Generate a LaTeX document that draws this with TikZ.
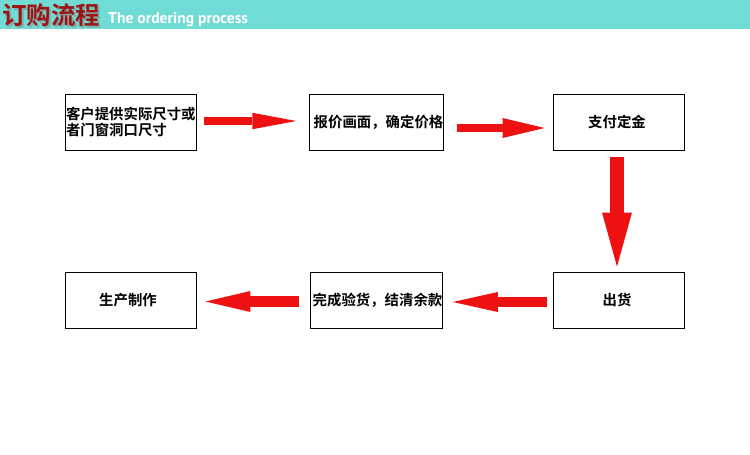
\documentclass[tikz,border=0pt]{standalone}
\usepackage{fontspec}
\usetikzlibrary{arrows.meta,calc}
\newfontfamily\cjk{Noto Sans CJK SC}[BoldFont={Noto Sans CJK SC Bold}]
\newfontfamily\hdrfont{PT Sans}
\definecolor{bandcyan}{HTML}{71DBD5}
\definecolor{flowred}{HTML}{EE1111}
\definecolor{titlered}{HTML}{9E1414}
\tikzset{
  box/.style={draw=black, line width=0.9pt, minimum width=131pt, minimum height=56pt,
    inner sep=0pt, font=\cjk\bfseries\fontsize{14.4}{15.5}\selectfont},
  flow/.style={draw=flowred, line width=#1},
}
\begin{document}
\begin{tikzpicture}[x=1pt,y=-1pt]
\useasboundingbox (0,0) rectangle (750,455);
\fill[white] (0,0) rectangle (750,455);
\fill[bandcyan] (0,0) rectangle (750,29);
% title with drop shadow
\node[anchor=center, text=black!45, opacity=0.55, font=\cjk\bfseries\fontsize{24.5}{24.5}\selectfont, inner sep=0pt] (tshadow) at (53.5,17.5) {订购流程};
\node[anchor=center, text=titlered, font=\cjk\bfseries\fontsize{24.5}{24.5}\selectfont, inner sep=0pt] (title) at (51,15) {订购流程};
\node[anchor=base west, text=white, font=\hdrfont\bfseries\fontsize{15.6}{15.6}\selectfont, inner sep=0pt] (subtitle) at (108,23.5) {The ordering process};
% boxes
\node[box, text width=131pt, align=left] (b1) at (130.5,122) {\hspace*{1pt}客户提供实际尺寸或\\\hspace*{1pt}者门窗洞口尺寸};
\node[box] (b2) at (376.5,122) {\hspace*{4pt}报价画面，确定价格};
\node[box] (b3) at (618.5,122) {\hspace*{-3pt}支付定金};
\node[box] (b4) at (130.5,300) {\hspace*{-5pt}生产制作};
\node[box] (b5) at (376.5,300) {\hspace*{2pt}完成验货，结清余款};
\node[box] (b6) at (618.5,300) {\hspace*{-3pt}出货};
% arrows
\draw[flow=7.5pt, -{Triangle[length=44pt,width=16.5pt,line width=0pt]}]
  ($(b1.east)+(8,-1)$) -- ($(b2.west)+(-13,-1)$);
\draw[flow=8.5pt, -{Triangle[length=42pt,width=20pt,line width=0pt]}]
  ($(b2.east)+(13,6)$) -- ($(b3.west)+(-8,6)$);
\draw[flow=14pt, -{Triangle[length=54pt,width=30pt,line width=0pt]}]
  ($(b3.south)+(-1.5,7)$) -- ($(b6.north)+(-1.5,-5)$);
\draw[flow=10pt, -{Triangle[length=45pt,width=20pt,line width=0pt]}]
  ($(b6.west)+(-6,2)$) -- ($(b5.east)+(10,2)$);
\draw[flow=11pt, -{Triangle[length=45pt,width=21pt,line width=0pt]}]
  ($(b5.west)+(-11,1.5)$) -- ($(b4.east)+(9,1.5)$);
\end{tikzpicture}
\end{document}
